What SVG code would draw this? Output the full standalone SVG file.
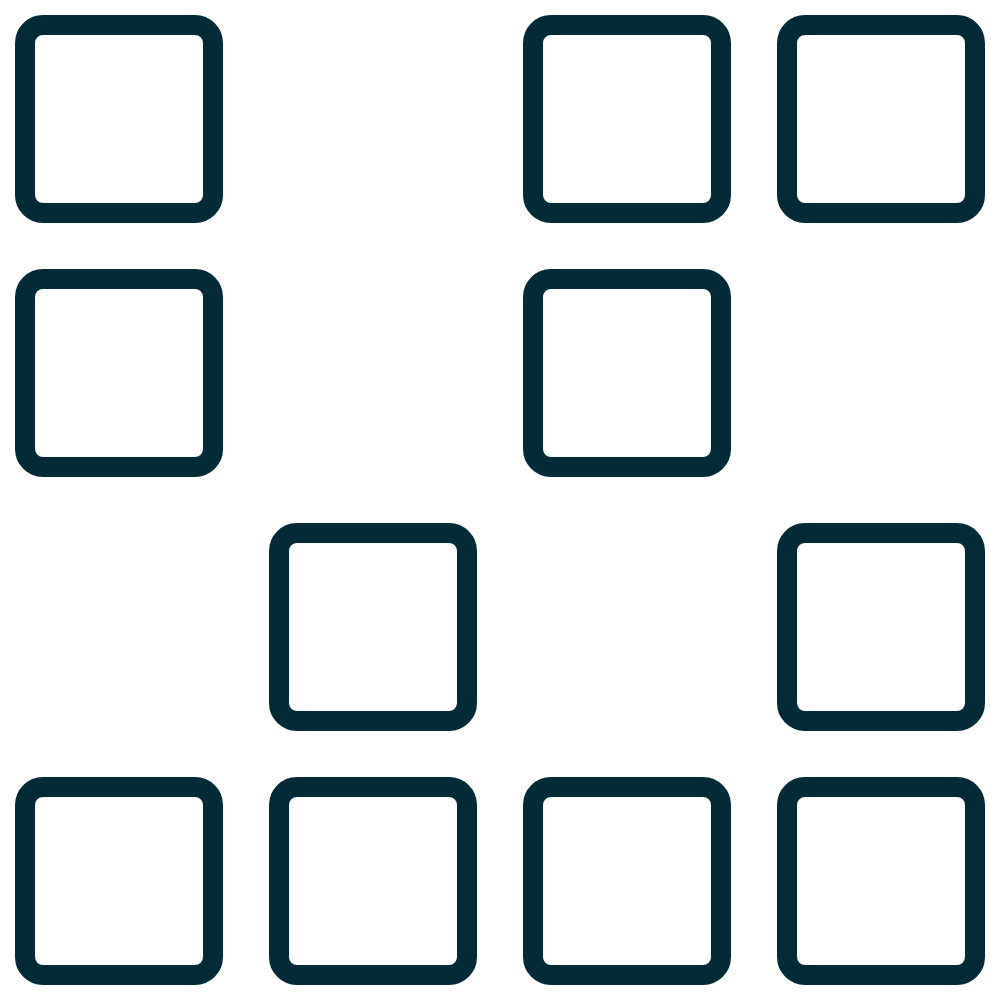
<svg xmlns="http://www.w3.org/2000/svg" width="1000" height="1000" viewBox="0 0 1000 1000">
<style>
.sq{fill:none;stroke:#022a37;stroke-width:20}
</style>
<rect width="1000" height="1000" fill="#fff"/>
<g id="r0c0"><rect class="sq" x="25" y="25" width="188" height="188" rx="18"/></g>
<g id="r0c2"><rect class="sq" x="533" y="25" width="188" height="188" rx="18"/></g>
<g id="r0c3"><rect class="sq" x="787" y="25" width="188" height="188" rx="18"/></g>
<g id="r1c0"><rect class="sq" x="25" y="279" width="188" height="188" rx="18"/></g>
<g id="r1c2"><rect class="sq" x="533" y="279" width="188" height="188" rx="18"/></g>
<g id="r2c1"><rect class="sq" x="279" y="533" width="188" height="188" rx="18"/></g>
<g id="r2c3"><rect class="sq" x="787" y="533" width="188" height="188" rx="18"/></g>
<g id="r3c0"><rect class="sq" x="25" y="787" width="188" height="188" rx="18"/></g>
<g id="r3c1"><rect class="sq" x="279" y="787" width="188" height="188" rx="18"/></g>
<g id="r3c2"><rect class="sq" x="533" y="787" width="188" height="188" rx="18"/></g>
<g id="r3c3"><rect class="sq" x="787" y="787" width="188" height="188" rx="18"/></g>
<g id="connectors"></g>
</svg>
